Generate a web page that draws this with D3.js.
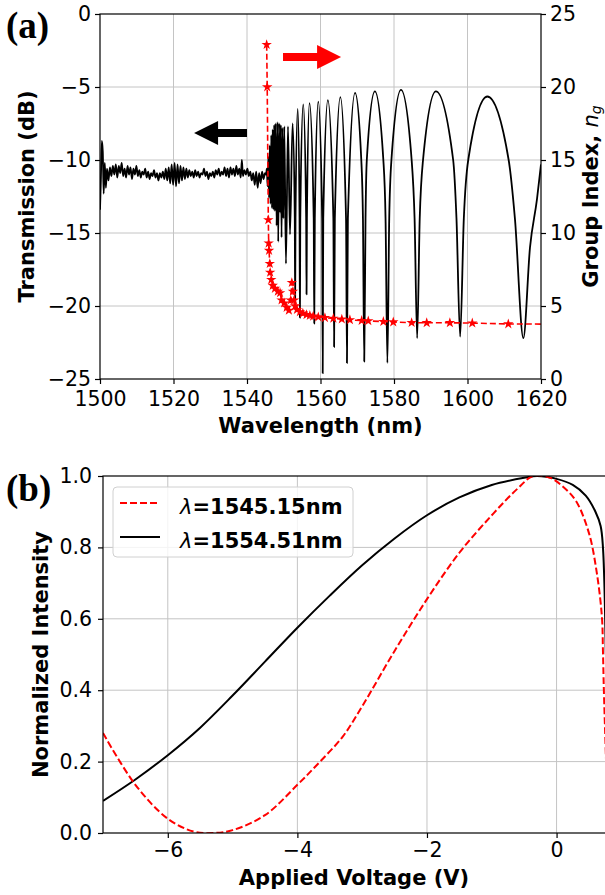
<!DOCTYPE html>
<html>
<head>
<meta charset="utf-8">
<script src="https://cdn.jsdelivr.net/npm/d3@7"></script>
<style>
  body { margin: 0; background: #fff; }
  svg { display: block; }
</style>
</head>
<body>
<div id="chart"></div>
<script>
(function () {
  "use strict";

  //////////////////////////////////////////////////////////////////////////////
  //
  // Data
  //
  // (a) transmission spectrum below the band edge: [wavelength nm, dB]
  var transFlat = [
    [1500.0, -13.4], [1500.25, -11.2], [1500.5, -8.7], [1500.75, -9.4], [1501.0, -12.3], [1501.3, -10.2],
    [1501.6, -11.9], [1501.9, -10.6], [1502.3, -11.4], [1502.7, -10.5], [1503.1, -11.1], [1503.5, -10.4],
    [1503.9, -11.0], [1504.3, -10.3], [1504.7, -11.2], [1505.1, -10.4], [1505.5, -10.9], [1505.9, -10.2],
    [1506.3, -11.1], [1506.7, -10.6], [1507.1, -11.2], [1507.5, -10.4], [1507.9, -11.0], [1508.3, -10.5],
    [1508.7, -11.3], [1509.1, -10.6], [1509.5, -11.0], [1509.9, -10.4], [1510.3, -11.1], [1510.7, -10.7],
    [1511.1, -11.2], [1511.5, -10.8], [1511.9, -11.0], [1512.3, -10.6], [1512.7, -11.2], [1513.1, -10.8],
    [1513.5, -11.3], [1513.9, -10.9], [1514.3, -11.1], [1514.7, -10.7], [1515.1, -11.2], [1515.5, -10.9],
    [1515.9, -11.4], [1516.3, -10.9], [1516.7, -11.2], [1517.1, -10.8], [1517.5, -11.3], [1517.9, -10.6],
    [1518.3, -11.4], [1518.7, -10.5], [1519.1, -11.6], [1519.5, -10.3], [1519.9, -11.7], [1520.3, -10.2],
    [1520.7, -11.8], [1521.1, -10.3], [1521.5, -11.6], [1521.9, -10.4], [1522.3, -11.4], [1522.7, -10.5],
    [1523.1, -11.3], [1523.5, -10.6], [1523.9, -11.2], [1524.3, -10.7], [1524.7, -11.1], [1525.1, -10.8],
    [1525.5, -11.2], [1525.9, -10.7], [1526.3, -11.1], [1526.7, -10.8], [1527.1, -11.2], [1527.5, -10.9],
    [1527.9, -11.0], [1528.3, -10.6], [1528.7, -11.1], [1529.1, -10.8], [1529.5, -11.3], [1529.9, -10.9],
    [1530.3, -11.1], [1530.7, -10.8], [1531.1, -11.2], [1531.5, -10.7], [1531.9, -11.0], [1532.3, -10.6],
    [1532.7, -11.1], [1533.1, -10.8], [1533.5, -11.0], [1533.9, -10.5], [1534.3, -11.1], [1534.7, -10.6],
    [1535.1, -11.2], [1535.5, -10.5], [1535.9, -11.0], [1536.3, -10.6], [1536.7, -11.1], [1537.1, -10.4],
    [1537.5, -11.0], [1537.9, -10.6], [1538.3, -11.2], [1538.6, -10.0], [1538.9, -11.1], [1539.3, -10.7],
    [1539.7, -11.0], [1540.1, -10.6], [1540.5, -11.1], [1540.9, -10.8], [1541.3, -11.4], [1541.7, -10.9],
    [1542.1, -11.7], [1542.5, -10.8], [1542.9, -11.9], [1543.3, -10.9], [1543.7, -11.6], [1544.1, -10.8],
    [1544.5, -11.3], [1544.9, -10.9], [1545.2, -11.0]
  ];

  // (a) transmission fringes above the band edge: [wavelength nm, dB]
  var transFringe = [
    [1545.4, -10.6], [1545.6, -11.8], [1545.8, -9.8], [1546.0, -12.6], [1546.2, -9.0], [1546.4, -13.0],
    [1546.6, -8.3], [1546.8, -13.3], [1547.0, -7.9], [1547.2, -13.4], [1547.4, -7.6], [1547.6, -13.5],
    [1547.8, -7.5], [1548.05, -14.5], [1548.3, -7.4], [1548.5, -15.6], [1548.75, -7.5], [1549.0, -13.6],
    [1549.2, -7.6], [1549.4, -15.3], [1549.65, -7.8], [1549.9, -14.0], [1550.15, -7.7], [1550.6, -17.1],
    [1551.15, -7.7], [1551.7, -15.1], [1552.4, -7.5],
    [1553.0, -14.0], [1553.1, -19.8], [1553.2, -14.0], [1553.8, -6.5],
    [1554.3, -14.0], [1554.4, -20.8], [1554.5, -14.0], [1555.3, -6.2],
    [1556.1, -14.0], [1556.2, -19.2], [1556.3, -14.0], [1557.0, -6.1],
    [1558.15, -14.0], [1558.3, -21.2], [1558.45, -14.0], [1559.4, -6.0],
    [1560.45, -14.0], [1560.6, -24.6], [1560.75, -14.0], [1562.0, -5.9],
    [1563.5, -14.0], [1563.7, -22.8], [1563.9, -14.0], [1565.4, -5.7],
    [1566.95, -14.0], [1567.2, -23.9], [1567.45, -14.0], [1569.4, -5.4],
    [1571.1, -10.0], [1571.55, -14.0], [1571.9, -23.8], [1572.25, -14.0], [1572.6, -10.0], [1574.8, -5.3],
    [1577.1, -10.0], [1577.7, -14.0], [1578.2, -23.9], [1578.7, -14.0], [1579.3, -10.0], [1581.9, -5.2],
    [1584.8, -10.0], [1585.6, -14.0], [1586.3, -22.2], [1587.0, -14.0], [1587.9, -10.0], [1591.4, -5.3],
    [1596.1, -10.0], [1597.0, -14.0], [1598.0, -22.1], [1599.0, -14.0], [1600.2, -10.0], [1605.4, -5.65],
    [1611.2, -10.0], [1612.9, -14.0], [1615.2, -22.2], [1617.0, -16.0], [1618.9, -12.7], [1620.0, -10.3]
  ];

  // (a) group index n_g: [wavelength nm, n_g]
  var groupIndex = [
    [1545.35, 22.9], [1545.5, 20.0], [1545.8, 10.9], [1545.9, 9.3], [1546.0, 8.8], [1546.2, 7.9],
    [1546.3, 7.3], [1546.6, 6.8], [1547.0, 6.4], [1547.6, 6.2], [1548.4, 6.0], [1549.0, 5.9],
    [1549.4, 5.4], [1550.1, 5.2], [1550.8, 4.9], [1551.4, 4.7], [1551.9, 5.4], [1552.2, 6.6],
    [1552.5, 6.0], [1552.8, 5.4], [1553.1, 5.0], [1553.6, 4.75], [1554.4, 4.6], [1555.2, 4.5],
    [1556.2, 4.4], [1557.1, 4.35], [1558.0, 4.3], [1559.4, 4.25], [1561.2, 4.2], [1563.5, 4.15],
    [1565.8, 4.1], [1568.0, 4.05], [1571.2, 4.0], [1573.0, 3.98], [1577.1, 3.93], [1579.8, 3.9],
    [1584.8, 3.86], [1588.9, 3.85], [1595.2, 3.85], [1601.3, 3.83], [1611.1, 3.77], [1622.0, 3.76]
  ];

  // (a) annotation arrows: from / to wavelength, at a dB level
  var arrowNotes = [
    { from: 1540.0, to: 1525.6, db: -8.15, color: "#000" },
    { from: 1549.8, to: 1565.6, db: -2.95, color: "#ff0000" }
  ];

  // (a) ticks
  var wlTicks = [1500, 1520, 1540, 1560, 1580, 1600, 1620];
  var dbTicks = [0, -5, -10, -15, -20, -25];
  var ngTicks = [0, 5, 10, 15, 20, 25];

  // (b) normalized intensity vs applied voltage: [V, intensity]
  var curve1545 = [
    [-7.0, 0.28], [-6.5, 0.135], [-6.0, 0.04], [-5.6, 0.004], [-5.3, 0.0], [-5.0, 0.008],
    [-4.5, 0.05], [-4.0, 0.135], [-3.65, 0.2], [-3.3, 0.27], [-3.0, 0.355], [-2.5, 0.51],
    [-2.0, 0.655], [-1.5, 0.785], [-1.0, 0.89], [-0.6, 0.965], [-0.36, 1.0], [-0.1, 0.995],
    [0.1, 0.97], [0.3, 0.93], [0.5, 0.84], [0.62, 0.73], [0.7, 0.605], [0.716, 0.51], [0.73, 0.4], [0.8, 0.0]
  ];
  var curve1554 = [
    [-7.0, 0.09], [-6.5, 0.15], [-6.0, 0.218], [-5.5, 0.295], [-5.0, 0.385], [-4.5, 0.48],
    [-4.0, 0.575], [-3.5, 0.665], [-3.0, 0.75], [-2.5, 0.825], [-2.0, 0.89], [-1.5, 0.94],
    [-1.0, 0.975], [-0.5, 0.995], [-0.3, 1.0], [0.0, 0.992], [0.25, 0.975], [0.45, 0.945],
    [0.6, 0.9], [0.68, 0.86], [0.716, 0.8], [0.76, 0.5]
  ];
  var legendLabels = ["1545.15nm", "1554.51nm"];

  // (b) ticks
  var voltTicks = [-6, -4, -2, 0];
  var intensityTicks = [0, 0.2, 0.4, 0.6, 0.8, 1.0];

  //////////////////////////////////////////////////////////////////////////////
  //
  // Setup
  //
  var W = 605, H = 895;
  var TICK_FONT = "'DejaVu Sans', sans-serif";
  var grid_color = "#c4c4c4";

  var svg = d3.select("#chart").append("svg")
    .attr("width", W)
    .attr("height", H);
  svg.append("rect").attr("width", W).attr("height", H).attr("fill", "#fff");

  var defs = svg.append("defs");

  function styleAxis(g, size) {
    g.attr("font-family", TICK_FONT).attr("font-size", size);
    g.select(".domain").remove();
    g.selectAll(".tick line").attr("stroke", "#000").attr("stroke-width", 1.2);
    g.selectAll(".tick text").attr("fill", "#000");
  }

  function addClip(id, x0, y0, w, h) {
    defs.append("clipPath").attr("id", id)
      .append("rect").attr("x", x0).attr("y", y0).attr("width", w).attr("height", h);
  }

  //////////////////////////////////////////////////////////////////////////////
  //
  // Panel (a)
  //
  var xA = d3.scaleLinear().domain([1500, 1620]).range([100, 541]);
  var yA = d3.scaleLinear().domain([-25, 0]).range([379, 14]);
  var yA2 = d3.scaleLinear().domain([0, 25]).range([379, 14]);

  addClip("clipA", 100, 14, 441, 365);

  var gA = svg.append("g");

  // grid
  gA.append("g").selectAll("line").data(wlTicks.slice(1, -1)).enter().append("line")
    .attr("x1", function (d) { return xA(d); }).attr("x2", function (d) { return xA(d); })
    .attr("y1", yA(-25)).attr("y2", yA(0))
    .attr("stroke", grid_color).attr("stroke-width", 1);
  gA.append("g").selectAll("line").data(dbTicks.slice(1, -1)).enter().append("line")
    .attr("x1", xA(1500)).attr("x2", xA(1620))
    .attr("y1", function (d) { return yA(d); }).attr("y2", function (d) { return yA(d); })
    .attr("stroke", grid_color).attr("stroke-width", 1);

  var plotA = gA.append("g").attr("clip-path", "url(#clipA)");

  // transmission
  var lineT = d3.line()
    .x(function (d) { return xA(d[0]); })
    .y(function (d) { return yA(d[1]); })
    .curve(d3.curveMonotoneX);
  plotA.append("path")
    .datum(transFlat.concat(transFringe))
    .attr("d", lineT)
    .attr("fill", "none")
    .attr("stroke", "#000")
    .attr("stroke-width", 1.8)
    .attr("stroke-linejoin", "round");

  // group index
  var lineG = d3.line()
    .x(function (d) { return xA(d[0]); })
    .y(function (d) { return yA2(d[1]); });
  plotA.append("path")
    .datum(groupIndex)
    .attr("d", lineG)
    .attr("fill", "none")
    .attr("stroke", "#ff0000")
    .attr("stroke-width", 1.6)
    .attr("stroke-dasharray", "6,3");
  plotA.append("g").selectAll("path").data(groupIndex).enter().append("path")
    .attr("d", d3.symbol().type(d3.symbolStar).size(34))
    .attr("transform", function (d) { return "translate(" + xA(d[0]) + "," + yA2(d[1]) + ")"; })
    .attr("fill", "#ff0000");

  // arrows
  arrowNotes.forEach(function (a) {
    var x0 = xA(a.from), x1 = xA(a.to), y = yA(a.db);
    var dir = x1 > x0 ? 1 : -1;
    var headL = 24, headH = 12, shaftH = 4;
    var xb = x1 - dir * headL;
    var pts = [[x0, y - shaftH], [xb, y - shaftH], [xb, y - headH], [x1, y],
      [xb, y + headH], [xb, y + shaftH], [x0, y + shaftH]];
    gA.append("polygon")
      .attr("points", pts.map(function (p) { return p.join(","); }).join(" "))
      .attr("fill", a.color);
  });

  // frame
  gA.append("rect")
    .attr("x", 100).attr("y", 14).attr("width", 441).attr("height", 365)
    .attr("fill", "none").attr("stroke", "#000").attr("stroke-width", 1.2);

  // axes
  gA.append("g").attr("transform", "translate(0,379)")
    .call(d3.axisBottom(xA).tickValues(wlTicks).tickFormat(d3.format("d")).tickSize(5).tickPadding(7))
    .call(styleAxis, 20.5);
  gA.append("g").attr("transform", "translate(100,0)")
    .call(d3.axisLeft(yA).tickValues(dbTicks).tickFormat(d3.format("d")).tickSize(5).tickPadding(4))
    .call(styleAxis, 20.5);
  gA.append("g").attr("transform", "translate(541,0)")
    .call(d3.axisRight(yA2).tickValues(ngTicks).tickFormat(d3.format("d")).tickSize(5).tickPadding(4))
    .call(styleAxis, 20.5);

  // labels
  gA.append("text")
    .attr("x", xA(1560)).attr("y", 433)
    .attr("text-anchor", "middle")
    .attr("font-family", TICK_FONT).attr("font-weight", "bold").attr("font-size", 21)
    .text("Wavelength (nm)");
  gA.append("text")
    .attr("transform", "translate(34," + yA(-12.5) + ") rotate(-90)")
    .attr("text-anchor", "middle")
    .attr("font-family", TICK_FONT).attr("font-weight", "bold").attr("font-size", 21)
    .text("Transmission (dB)");
  var rl = gA.append("text")
    .attr("transform", "translate(598," + yA(-12.5) + ") rotate(-90)")
    .attr("text-anchor", "middle")
    .attr("font-family", TICK_FONT).attr("font-size", 21);
  rl.append("tspan").attr("font-weight", "bold").text("Group Index, ");
  rl.append("tspan").attr("font-style", "italic").text("n");
  rl.append("tspan").attr("font-style", "italic").attr("font-size", 14).attr("dy", 3).text("g");

  svg.append("text")
    .attr("x", 6).attr("y", 38)
    .attr("font-family", "'Liberation Serif', 'Times New Roman', serif")
    .attr("font-weight", "bold").attr("font-size", 37)
    .text("(a)");

  //////////////////////////////////////////////////////////////////////////////
  //
  // Panel (b)
  //
  var xB = d3.scaleLinear().domain([-7, 0.8]).range([103, 608.4]);
  var yB = d3.scaleLinear().domain([0, 1]).range([833, 476]);

  addClip("clipB", 103, 476, 505.4, 357);

  var gB = svg.append("g");

  gB.append("g").selectAll("line").data(voltTicks).enter().append("line")
    .attr("x1", function (d) { return xB(d); }).attr("x2", function (d) { return xB(d); })
    .attr("y1", yB(0)).attr("y2", yB(1))
    .attr("stroke", grid_color).attr("stroke-width", 1);
  gB.append("g").selectAll("line").data(intensityTicks.slice(1, -1)).enter().append("line")
    .attr("x1", xB(-7)).attr("x2", xB(0.8))
    .attr("y1", function (d) { return yB(d); }).attr("y2", function (d) { return yB(d); })
    .attr("stroke", grid_color).attr("stroke-width", 1);

  var plotB = gB.append("g").attr("clip-path", "url(#clipB)");
  var lineB = d3.line()
    .x(function (d) { return xB(d[0]); })
    .y(function (d) { return yB(d[1]); })
    .curve(d3.curveCatmullRom.alpha(0.5));

  plotB.append("path")
    .datum(curve1554)
    .attr("d", lineB)
    .attr("fill", "none").attr("stroke", "#000").attr("stroke-width", 2);
  plotB.append("path")
    .datum(curve1545)
    .attr("d", lineB)
    .attr("fill", "none").attr("stroke", "#ff0000").attr("stroke-width", 2)
    .attr("stroke-dasharray", "7,3");

  gB.append("rect")
    .attr("x", 103).attr("y", 476).attr("width", 505.4).attr("height", 357)
    .attr("fill", "none").attr("stroke", "#000").attr("stroke-width", 1.2);

  gB.append("g").attr("transform", "translate(0,833)")
    .call(d3.axisBottom(xB).tickValues(voltTicks).tickFormat(d3.format("d")).tickSize(5).tickPadding(4))
    .call(styleAxis, 20.5);
  gB.append("g").attr("transform", "translate(103,0)")
    .call(d3.axisLeft(yB).tickValues(intensityTicks).tickFormat(d3.format(".1f")).tickSize(5).tickPadding(6))
    .call(styleAxis, 20.5);

  gB.append("text")
    .attr("x", 354).attr("y", 885)
    .attr("text-anchor", "middle")
    .attr("font-family", TICK_FONT).attr("font-weight", "bold").attr("font-size", 21)
    .text("Applied Voltage (V)");
  gB.append("text")
    .attr("transform", "translate(48," + yB(0.5) + ") rotate(-90)")
    .attr("text-anchor", "middle")
    .attr("font-family", TICK_FONT).attr("font-weight", "bold").attr("font-size", 21)
    .text("Normalized Intensity");

  // legend
  var lg = gB.append("g").attr("transform", "translate(113,487)");
  lg.append("rect")
    .attr("width", 240).attr("height", 70).attr("rx", 4)
    .attr("fill", "#fff").attr("fill-opacity", 0.8)
    .attr("stroke", "#d0d0d0").attr("stroke-width", 1);
  var legendStyles = [
    { color: "#ff0000", dash: "7,3" },
    { color: "#000", dash: null }
  ];
  legendLabels.forEach(function (lab, i) {
    var y = 16 + i * 34;
    lg.append("line")
      .attr("x1", 7).attr("x2", 47).attr("y1", y).attr("y2", y)
      .attr("stroke", legendStyles[i].color).attr("stroke-width", 2)
      .attr("stroke-dasharray", legendStyles[i].dash);
    var t = lg.append("text")
      .attr("x", 67).attr("y", y + 11)
      .attr("font-family", TICK_FONT).attr("font-size", 21);
    t.append("tspan").attr("font-style", "italic").text("λ");
    t.append("tspan").attr("font-weight", "bold").text("=" + lab);
  });

  svg.append("text")
    .attr("x", 6).attr("y", 501)
    .attr("font-family", "'Liberation Serif', 'Times New Roman', serif")
    .attr("font-weight", "bold").attr("font-size", 37)
    .text("(b)");
})();
</script>
</body>
</html>
